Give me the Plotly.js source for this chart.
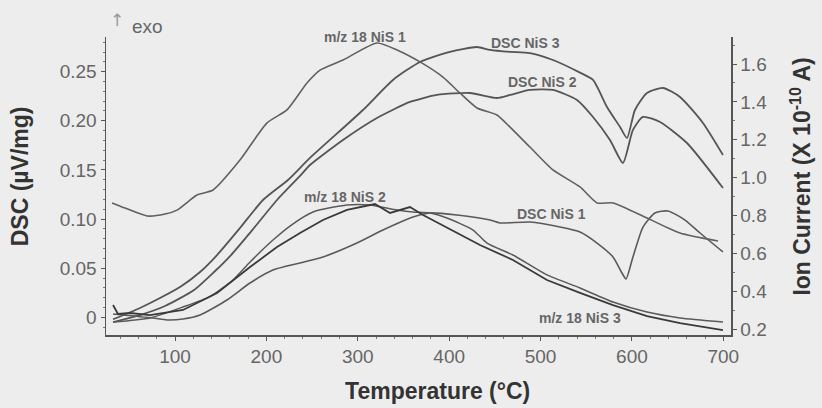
<!DOCTYPE html>
<html>
<head>
<meta charset="utf-8">
<script src="https://cdn.plot.ly/plotly-3.0.1.min.js"></script>
<style>html,body{margin:0;padding:0;background:#ededed;}#chart{width:822px;height:408px;}</style>
</head>
<body>
<div id="chart"></div>
<script>
// Temperature (°C) and values
const mz1_T = [31.1, 45.3, 69.4, 89.1, 102.2, 116.4, 124.1, 141.6, 171.1, 200.7, 222.5, 244.4, 258.7, 283.8, 321.0, 342.9, 368.1, 393.2, 411.8, 430.5, 452.3, 466.6, 488.4, 513.6, 543.2, 561.8, 579.3, 616.5, 652.6, 694.2];
const mz1_I = [0.867, 0.840, 0.798, 0.808, 0.829, 0.882, 0.909, 0.935, 1.093, 1.289, 1.358, 1.500, 1.568, 1.621, 1.711, 1.674, 1.611, 1.531, 1.447, 1.368, 1.331, 1.267, 1.162, 1.041, 0.951, 0.867, 0.867, 0.787, 0.708, 0.666];

const mz2_T = [32.2, 37.6, 50.8, 72.6, 108.8, 146.0, 182.1, 211.6, 236.8, 261.9, 288.2, 318.8, 335.3, 357.1, 371.4, 397.6, 433.7, 469.8, 507.0, 543.2, 579.3, 616.5, 652.6, 699.6];
const mz2_I = [0.328, 0.281, 0.286, 0.275, 0.302, 0.392, 0.529, 0.634, 0.708, 0.777, 0.830, 0.861, 0.814, 0.845, 0.803, 0.735, 0.645, 0.566, 0.460, 0.392, 0.328, 0.270, 0.233, 0.196];

const mz3_T = [32.2, 72.6, 108.8, 137.5, 163.5, 182.1, 207.2, 225.8, 251.0, 288.2, 313.4, 342.9, 360.4, 379.0, 397.6, 426.1, 441.4, 469.8, 507.0, 543.2, 579.3, 616.5, 652.6, 699.6];
const mz3_I = [0.238, 0.260, 0.318, 0.371, 0.460, 0.555, 0.671, 0.745, 0.819, 0.856, 0.856, 0.830, 0.819, 0.814, 0.787, 0.724, 0.655, 0.592, 0.487, 0.418, 0.344, 0.291, 0.260, 0.239];

const dsc1_T = [32.2, 75.9, 91.2, 108.8, 127.4, 156.9, 182.1, 207.2, 236.8, 261.9, 299.1, 327.6, 360.4, 379.0, 408.6, 444.7, 455.6, 488.4, 521.3, 543.2, 561.8, 579.3, 589.1, 593.5, 601.1, 612.1, 625.2, 639.5, 658.1, 674.5, 699.6];
const dsc1_V = [0.0034, -0.0007, -0.0027, -0.0017, 0.0023, 0.0176, 0.0349, 0.0481, 0.0553, 0.0614, 0.0756, 0.0889, 0.1021, 0.1062, 0.1041, 0.0990, 0.0960, 0.0970, 0.0919, 0.0868, 0.0756, 0.0614, 0.0451, 0.0390, 0.0614, 0.0919, 0.1062, 0.1082, 0.0990, 0.0858, 0.0665];

const dsc2_T = [32.2, 61.7, 89.1, 120.8, 142.7, 161.3, 186.4, 211.6, 236.8, 247.7, 283.8, 321.0, 357.1, 386.7, 422.8, 452.3, 466.6, 488.4, 513.6, 539.9, 557.4, 576.0, 590.2, 601.1, 612.1, 630.7, 660.2, 699.6];
const dsc2_V = [-0.0048, 0.0023, 0.0115, 0.0278, 0.0461, 0.0634, 0.0909, 0.1194, 0.1439, 0.1550, 0.1805, 0.2029, 0.2192, 0.2263, 0.2283, 0.2232, 0.2263, 0.2314, 0.2314, 0.2212, 0.2039, 0.1805, 0.1571, 0.1907, 0.2039, 0.1988, 0.1774, 0.1316];

const dsc3_T = [32.2, 61.7, 83.6, 105.5, 127.4, 146.0, 171.1, 196.3, 223.6, 247.7, 305.7, 338.5, 368.1, 400.9, 430.5, 444.7, 466.6, 488.4, 513.6, 543.2, 557.4, 572.7, 587.0, 594.6, 603.3, 616.5, 634.0, 652.6, 677.7, 699.6];
const dsc3_V = [-0.002, 0.0095, 0.0196, 0.0308, 0.0461, 0.0634, 0.0909, 0.1194, 0.1398, 0.1622, 0.2110, 0.2416, 0.2599, 0.2701, 0.2751, 0.2721, 0.2701, 0.2690, 0.2619, 0.2490, 0.2416, 0.2141, 0.1937, 0.1825, 0.2110, 0.2283, 0.2334, 0.2243, 0.1978, 0.1652];

const xTicks = [100, 200, 300, 400, 500, 600, 700];
const yTicks = [0, 0.05, 0.10, 0.15, 0.20, 0.25];
const yTickText = ['0', '0.05', '0.10', '0.15', '0.20', '0.25'];

// label positions (data coordinates)
const labels = [
  {text: 'm/z 18 NiS 1', x: 308, y: 1.742, axis: 'y2'},
  {text: 'DSC NiS 3', x: 484, y: 0.2792, axis: 'y'},
  {text: 'DSC NiS 2', x: 502, y: 0.2395, axis: 'y'},
  {text: 'm/z 18 NiS 2', x: 286, y: 0.898, axis: 'y2'},
  {text: 'DSC NiS 1', x: 512, y: 0.1052, axis: 'y'},
  {text: 'm/z 18 NiS 3', x: 543, y: 0.260, axis: 'y2'}
];

const FONT = 'Liberation Sans, Arial, sans-serif';
const SP = '&nbsp;';

function tr(x, y, axis, color, w, shape) {
  return {x: x, y: y, yaxis: axis, type: 'scatter', mode: 'lines',
          line: {color: color, width: w, shape: shape || 'spline', smoothing: 0.6},
          hoverinfo: 'skip', cliponaxis: true};
}

const data = [
  tr(mz1_T, mz1_I, 'y2', '#606060', 1.6),
  tr(dsc3_T, dsc3_V, 'y', '#555555', 1.8),
  tr(dsc2_T, dsc2_V, 'y', '#555555', 1.8),
  tr(dsc1_T, dsc1_V, 'y', '#5a5a5a', 1.6),
  tr(mz3_T, mz3_I, 'y2', '#5a5a5a', 1.5),
  tr(mz2_T, mz2_I, 'y2', '#3a3a3a', 1.8, 'linear')
];

const annotations = labels.map(l => ({
  text: '<b>' + l.text + '</b>', x: l.x, y: l.y, xref: 'x', yref: l.axis,
  showarrow: false, xanchor: 'center', yanchor: 'middle',
  font: {family: FONT, size: 14, color: '#666666'}
}));
annotations.push({text: 'exo', xref: 'paper', yref: 'paper', x: 0.067, y: 1.034,
  showarrow: false, xanchor: 'center', yanchor: 'middle',
  font: {family: FONT, size: 19, color: '#666666'}});
annotations.push({text: '↑', xref: 'paper', yref: 'paper', x: 0.0176, y: 1.058,
  showarrow: false, xanchor: 'center', yanchor: 'middle',
  font: {family: 'DejaVu Sans, sans-serif', size: 17, color: '#999999'}});

const tickFont = {family: FONT, size: 19, color: '#666666'};
const titleFont = {family: FONT, size: 23, color: '#333333'};

const layout = {
  width: 822, height: 408,
  margin: {l: 106, r: 91, t: 37, b: 73, pad: 0},
  paper_bgcolor: '#ededed', plot_bgcolor: '#ededed',
  showlegend: false,
  font: {family: FONT},
  xaxis: {
    range: [24.5, 708.4], tickmode: 'array', tickvals: xTicks,
    showline: true, linecolor: '#555', linewidth: 1.5,
    ticks: 'outside', ticklen: 4, tickcolor: '#555', tickwidth: 1,
    tickfont: tickFont, showgrid: false, zeroline: false,
    minor: {ticks: 'outside', ticklen: 2, dtick: 20, tick0: 0, tickcolor: '#777', showgrid: false},
    title: {text: SP.repeat(6) + '<b>Temperature (°C)</b>', font: titleFont, standoff: 16}
  },
  yaxis: {
    range: [-0.018, 0.2853], tickmode: 'array', tickvals: yTicks, ticktext: yTickText,
    showline: true, linecolor: '#555', linewidth: 1.5,
    ticks: 'outside', ticklen: 4, tickcolor: '#555', tickwidth: 1,
    tickfont: tickFont, showgrid: false, zeroline: false,
    minor: {ticks: 'outside', ticklen: 2, dtick: 0.01, tick0: 0, tickcolor: '#777', showgrid: false},
    title: {text: SP.repeat(3) + '<b>DSC (µV/mg)</b>', font: titleFont, standoff: 24}
  },
  yaxis2: {
    overlaying: 'y', side: 'right', anchor: 'x',
    range: [0.170, 1.7425], tickmode: 'linear', tick0: 0.2, dtick: 0.2, tickformat: '.1f',
    showline: true, linecolor: '#555', linewidth: 1.5,
    ticks: 'outside', ticklen: 4, tickcolor: '#555', tickwidth: 1,
    tickfont: tickFont, showgrid: false, zeroline: false,
    minor: {ticks: 'outside', ticklen: 2, dtick: 0.1, tick0: 0, tickcolor: '#777', showgrid: false},
    title: {text: SP.repeat(3) + '<b>Ion Current (X 10<sup>-10</sup> A)</b>', font: titleFont, standoff: 28}
  },
  annotations: annotations
};

Plotly.newPlot('chart', data, layout, {staticPlot: true, displayModeBar: false});
</script>
</body>
</html>
